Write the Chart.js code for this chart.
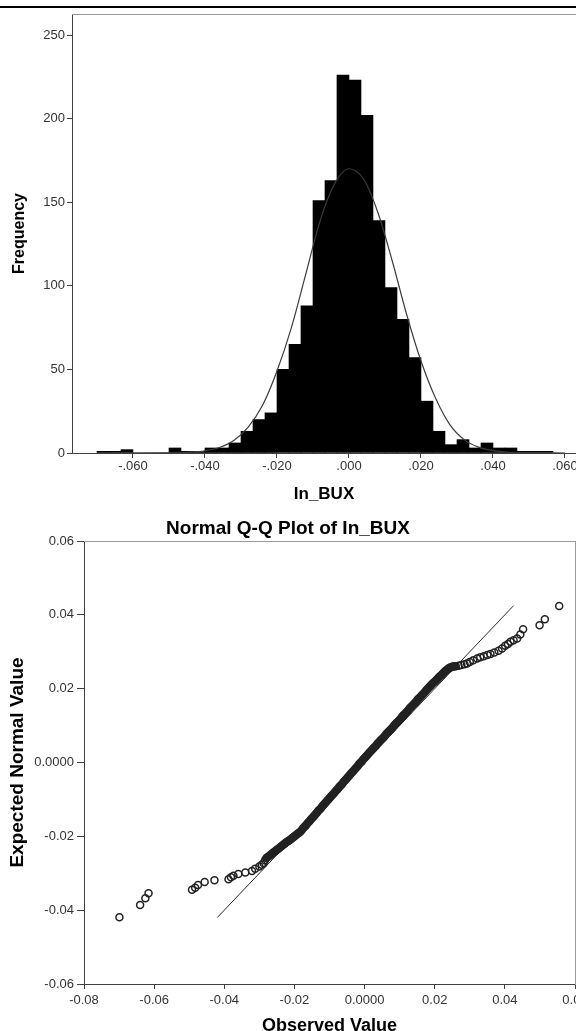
<!DOCTYPE html>
<html>
<head>
<meta charset="utf-8">
<script src="https://cdn.jsdelivr.net/npm/chart.js@4.4.1/dist/chart.umd.min.js"></script>
<style>
html,body{margin:0;padding:0;background:#fff;width:576px;height:1031px;overflow:hidden;position:relative;}
#topline{position:absolute;left:0;top:6px;width:576px;height:2px;background:#000;}
#w1{position:absolute;left:0;top:0;width:576px;height:505px;}
#w2{position:absolute;left:0;top:505px;width:576px;height:540px;}
canvas{display:block;}
</style>
</head>
<body>
<div id="topline"></div>
<div id="w1"><canvas id="hist" width="576" height="505"></canvas></div>
<div id="w2"><canvas id="qq" width="576" height="540"></canvas></div>
<script>
// ---------- Histogram data ----------
const binCenters = [-0.06833,-0.06500,-0.06167,-0.05833,-0.05500,-0.05167,-0.04833,-0.04500,-0.04167,-0.03833,
                    -0.03500,-0.03167,-0.02833,-0.02500,-0.02167,-0.01833,-0.01500,-0.01167,-0.00833,-0.00500,
                    -0.00167,0.00167,0.00500,0.00833,0.01167,0.01500,0.01833,0.02167,0.02500,0.02833,
                    0.03167,0.03500,0.03833,0.04167,0.04500,0.04833,0.05167,0.05500];
const binCounts  = [1,1,2,0,0,0,3,1,1,3,
                    3,6,13,20,24,50,65,88,151,163,
                    226,223,202,139,99,80,57,31,13,5,
                    8,3,6,3,3,1,1,1];
const curveX = [-0.070,-0.060,-0.050,-0.045,-0.040,-0.036,-0.032,-0.028,-0.024,-0.020,-0.016,-0.012,-0.008,-0.004,
                0.000,0.004,0.008,0.012,0.016,0.020,0.024,0.028,0.032,0.036,0.040,0.045,0.050,0.060];
const curveY = [0,0,0.1,0.4,1.3,3.3,7.5,15.5,28.5,49,75,107,139,161,
                170,164,144,115,83,55,33,17,8,3.5,1.4,0.4,0.1,0];
const histXTicks = [-0.06,-0.04,-0.02,0,0.02,0.04,0.06];
const histXTickLabels = ['-.060','-.040','-.020','.000','.020','.040','.060'];
const histYTicks = [0,50,100,150,200,250];
const histYTickLabels = ['0','50','100','150','200','250'];

// ---------- Q-Q data ----------
const qqObserved = [
 -0.0699,-0.0640,-0.0625,-0.0616,-0.0492,-0.0483,-0.0475,-0.0456,-0.0428,-0.0388,
 -0.0381,-0.0374,-0.0360,-0.0340,-0.0321,-0.0312,-0.0300,-0.0293,-0.0288,-0.0284,
 -0.0280,-0.0276,-0.0272,-0.0268,-0.0264,-0.0260,-0.0256,-0.0252,-0.0248,-0.0244,
 -0.0240,-0.0236,-0.0232,-0.0228,-0.0224,-0.0220,-0.0216,-0.0212,-0.0208,-0.0204,
 -0.0200,-0.0196,-0.0192,-0.0188,-0.0184,-0.0180,-0.0176,-0.0172,-0.0168,-0.0164,
 -0.0160,-0.0156,-0.0152,-0.0148,-0.0144,-0.0140,-0.0136,-0.0132,-0.0128,-0.0124,
 -0.0120,-0.0116,-0.0112,-0.0108,-0.0104,-0.0100,-0.0096,-0.0092,-0.0088,-0.0084,
 -0.0080,-0.0076,-0.0072,-0.0068,-0.0064,-0.0060,-0.0056,-0.0052,-0.0048,-0.0044,
 -0.0040,-0.0036,-0.0032,-0.0028,-0.0024,-0.0020,-0.0016,-0.0012,-0.0008,-0.0004,
 0.0000,0.0004,0.0008,0.0012,0.0016,0.0020,0.0024,0.0028,0.0032,0.0036,
 0.0040,0.0044,0.0048,0.0052,0.0056,0.0060,0.0064,0.0068,0.0072,0.0076,
 0.0080,0.0084,0.0088,0.0092,0.0096,0.0100,0.0104,0.0108,0.0112,0.0116,
 0.0120,0.0124,0.0128,0.0132,0.0136,0.0140,0.0144,0.0148,0.0152,0.0156,
 0.0160,0.0164,0.0168,0.0172,0.0176,0.0180,0.0184,0.0188,0.0192,0.0196,
 0.0200,0.0204,0.0208,0.0212,0.0216,0.0220,0.0224,0.0228,0.0232,0.0236,
 0.0240,0.0244,0.0248,0.0252,0.0256,0.0260,
 0.0268,0.0276,0.0285,0.0292,0.0300,0.0310,0.0321,0.0330,0.0340,0.0350,
 0.0359,0.0370,0.0382,0.0392,0.0401,0.0409,0.0416,0.0425,0.0435,0.0444,
 0.0452,0.0499,0.0514,0.0555];
const qqExpected = [
 -0.0419,-0.0386,-0.0368,-0.0354,-0.0345,-0.0339,-0.0332,-0.0324,-0.0319,-0.0316,
 -0.0311,-0.0307,-0.0302,-0.0298,-0.0294,-0.0288,-0.0282,-0.0277,-0.0273,-0.0265,
 -0.0259,-0.0256,-0.0253,-0.0250,-0.0247,-0.0244,-0.0241,-0.0238,-0.0235,-0.0232,
 -0.0229,-0.0226,-0.0223,-0.0220,-0.0217,-0.0214,-0.0212,-0.0209,-0.0206,-0.0203,
 -0.0200,-0.0197,-0.0194,-0.0191,-0.0188,-0.0184,-0.0179,-0.0175,-0.0171,-0.0166,
 -0.0162,-0.0158,-0.0153,-0.0149,-0.0145,-0.0140,-0.0136,-0.0131,-0.0127,-0.0123,
 -0.0118,-0.0114,-0.0110,-0.0105,-0.0101,-0.0097,-0.0092,-0.0088,-0.0084,-0.0079,
 -0.0075,-0.0071,-0.0066,-0.0062,-0.0058,-0.0053,-0.0049,-0.0045,-0.0040,-0.0036,
 -0.0031,-0.0027,-0.0023,-0.0018,-0.0014,-0.0010,-0.0005,-0.0001,0.0003,0.0008,
 0.0012,0.0016,0.0020,0.0025,0.0029,0.0033,0.0037,0.0041,0.0045,0.0050,
 0.0054,0.0058,0.0062,0.0066,0.0070,0.0075,0.0079,0.0083,0.0087,0.0091,
 0.0095,0.0100,0.0104,0.0108,0.0112,0.0116,0.0120,0.0125,0.0129,0.0133,
 0.0137,0.0141,0.0146,0.0150,0.0154,0.0158,0.0162,0.0166,0.0171,0.0175,
 0.0179,0.0183,0.0187,0.0191,0.0196,0.0200,0.0204,0.0208,0.0212,0.0216,
 0.0219,0.0223,0.0227,0.0231,0.0234,0.0238,0.0242,0.0246,0.0249,0.0252,
 0.0255,0.0257,0.0259,0.0260,0.0261,0.0261,
 0.0262,0.0264,0.0266,0.0268,0.0272,0.0277,0.0282,0.0285,0.0288,0.0291,
 0.0294,0.0298,0.0303,0.0309,0.0316,0.0321,0.0327,0.0331,0.0336,0.0347,
 0.0361,0.0372,0.0388,0.0424];
const qqLineX = [-0.0420, 0.0425];
const qqLineY = [-0.0420, 0.0425];
const qqXTicks = [-0.08,-0.06,-0.04,-0.02,0,0.02,0.04,0.06];
const qqXTickLabels = ['-0.08','-0.06','-0.04','-0.02','0.0000','0.02','0.04','0.06'];
const qqYTicks = [-0.06,-0.04,-0.02,0,0.02,0.04,0.06];
const qqYTickLabels = ['-0.06','-0.04','-0.02','0.0000','0.02','0.04','0.06'];

// ---------- Common ----------
const FONT = "'Liberation Sans', Arial, Helvetica, sans-serif";
Chart.defaults.font.family = FONT;
const AXIS = '#404040';
const TICKCOL = '#333333';
const FRAME = '#9a9a9a';
const RING = '#222222';
function fixedTicks(values){ return s => { s.ticks = values.map(v => ({value: v})); }; }
function noPad(s){ s.paddingLeft = 0; s.paddingRight = 0; s.paddingTop = 0; s.paddingBottom = 0; }

// points that overlap both neighbours on screen merge into a solid band (as in the reference)
function isDense(ctx){
  const chart = ctx.chart, i = ctx.dataIndex, n = qqObserved.length;
  const sx = chart.scales.x, sy = chart.scales.y;
  const px = j => sx.getPixelForValue(qqObserved[j]);
  const py = j => sy.getPixelForValue(qqExpected[j]);
  const near = j => j >= 0 && j < n && Math.hypot(px(j) - px(i), py(j) - py(i)) < 2.7;
  return near(i - 1) && near(i + 1);
}

// ---------- Histogram ----------
new Chart(document.getElementById('hist'), {
  type: 'bar',
  data: {
    datasets: [
      { type: 'line', label: 'Normal', data: curveX.map((x, i) => ({x: x, y: curveY[i]})),
        borderColor: '#3c3c3c', borderWidth: 1.2, pointRadius: 0, fill: false,
        cubicInterpolationMode: 'monotone', order: 0 },
      { type: 'bar', label: 'Frequency', data: binCenters.map((x, i) => ({x: x, y: binCounts[i]})),
        backgroundColor: '#000000', borderWidth: 0, barPercentage: 1, categoryPercentage: 1, order: 1 }
    ]
  },
  options: {
    responsive: false, animation: false, devicePixelRatio: 1,
    layout: { padding: 0, autoPadding: false },
    plugins: { legend: { display: false }, tooltip: { enabled: false }, title: { display: false } },
    scales: {
      x: {
        type: 'linear', position: 'bottom', min: -0.07694, max: 0.06306, offset: false,
        afterBuildTicks: fixedTicks(histXTicks),
        ticks: { autoSkip: false, maxRotation: 0, padding: 1, color: TICKCOL, font: { size: 13 },
                 callback: (v, i) => histXTickLabels[i] },
        grid: { display: true, offset: false, drawOnChartArea: false, drawTicks: true, tickLength: 5, color: AXIS },
        border: { display: true, color: AXIS, width: 1 },
        title: { display: true, text: 'In_BUX', color: '#000', font: { size: 17, weight: 'bold' }, padding: { top: 0, bottom: 0 } },
        afterFit: s => { s.height = 52; noPad(s); }
      },
      y: {
        type: 'linear', position: 'left', min: 0, max: 262.56,
        afterBuildTicks: fixedTicks(histYTicks),
        ticks: { autoSkip: false, padding: 2, color: TICKCOL, font: { size: 13 },
                 callback: (v, i) => histYTickLabels[i] },
        grid: { display: true, drawOnChartArea: false, drawTicks: true, tickLength: 5, color: AXIS },
        border: { display: true, color: AXIS, width: 1 },
        title: { display: true, text: 'Frequency', color: '#000', font: { size: 16, weight: 'bold' }, padding: { top: 10.4, bottom: 0 } },
        afterFit: s => { s.width = 72; noPad(s); }
      },
      xTop: {
        type: 'linear', position: 'top', min: -0.07694, max: 0.06306,
        ticks: { display: false }, grid: { display: false, drawTicks: false },
        border: { display: true, color: FRAME, width: 1 },
        afterFit: s => { s.height = 14; noPad(s); }
      }
    }
  }
});

// ---------- Normal Q-Q ----------
new Chart(document.getElementById('qq'), {
  type: 'scatter',
  data: {
    datasets: [
      { type: 'line', label: 'Reference', data: qqLineX.map((x, i) => ({x: x, y: qqLineY[i]})),
        borderColor: '#2a2a2a', borderWidth: 1, pointRadius: 0, fill: false, order: 2 },
      { type: 'scatter', label: 'Observed', data: qqObserved.map((x, i) => ({x: x, y: qqExpected[i]})),
        pointRadius: 3.5, pointBorderWidth: 1.5, borderWidth: 1.5,
        pointBorderColor: RING, borderColor: RING,
        pointBackgroundColor: ctx => isDense(ctx) ? RING : 'rgba(255,255,255,0)',
        backgroundColor: 'rgba(255,255,255,0)', order: 1 }
    ]
  },
  options: {
    responsive: false, animation: false, devicePixelRatio: 1,
    layout: { padding: 0, autoPadding: false },
    plugins: {
      legend: { display: false }, tooltip: { enabled: false },
      title: { display: true, text: 'Normal Q-Q Plot of In_BUX', color: '#000',
               font: { size: 19, weight: 'bold' }, padding: { top: 12, bottom: 1.2 } }
    },
    scales: {
      x: {
        type: 'linear', position: 'bottom', min: -0.08, max: 0.06,
        afterBuildTicks: fixedTicks(qqXTicks),
        ticks: { autoSkip: false, maxRotation: 0, padding: 4, color: TICKCOL, font: { size: 13 },
                 callback: (v, i) => qqXTickLabels[i] },
        grid: { display: true, drawOnChartArea: false, drawTicks: true, tickLength: 5, color: AXIS },
        border: { display: true, color: AXIS, width: 1 },
        title: { display: true, text: 'Observed Value', color: '#000', font: { size: 18, weight: 'bold' }, padding: { top: 0, bottom: 8.5 } },
        afterFit: s => { s.height = 61; noPad(s); }
      },
      y: {
        type: 'linear', position: 'left', min: -0.06, max: 0.06,
        afterBuildTicks: fixedTicks(qqYTicks),
        ticks: { autoSkip: false, padding: 3, color: TICKCOL, font: { size: 13 },
                 callback: (v, i) => qqYTickLabels[i] },
        grid: { display: true, drawOnChartArea: false, drawTicks: true, tickLength: 7, color: AXIS },
        border: { display: true, color: AXIS, width: 1 },
        title: { display: true, text: 'Expected Normal Value', color: '#000', font: { size: 19, weight: 'bold' }, padding: { top: 6.2, bottom: 0 } },
        afterFit: s => { s.width = 84; noPad(s); }
      },
      xTop: {
        type: 'linear', position: 'top', min: -0.08, max: 0.06,
        ticks: { display: false }, grid: { display: false, drawTicks: false },
        border: { display: true, color: FRAME, width: 1 },
        afterFit: s => { s.height = 0; noPad(s); }
      },
      yRight: {
        type: 'linear', position: 'right', min: -0.06, max: 0.06,
        ticks: { display: false }, grid: { display: false, drawTicks: false },
        border: { display: true, color: FRAME, width: 1 },
        afterFit: s => { s.width = 1; noPad(s); }
      }
    }
  }
});
</script>
</body>
</html>
